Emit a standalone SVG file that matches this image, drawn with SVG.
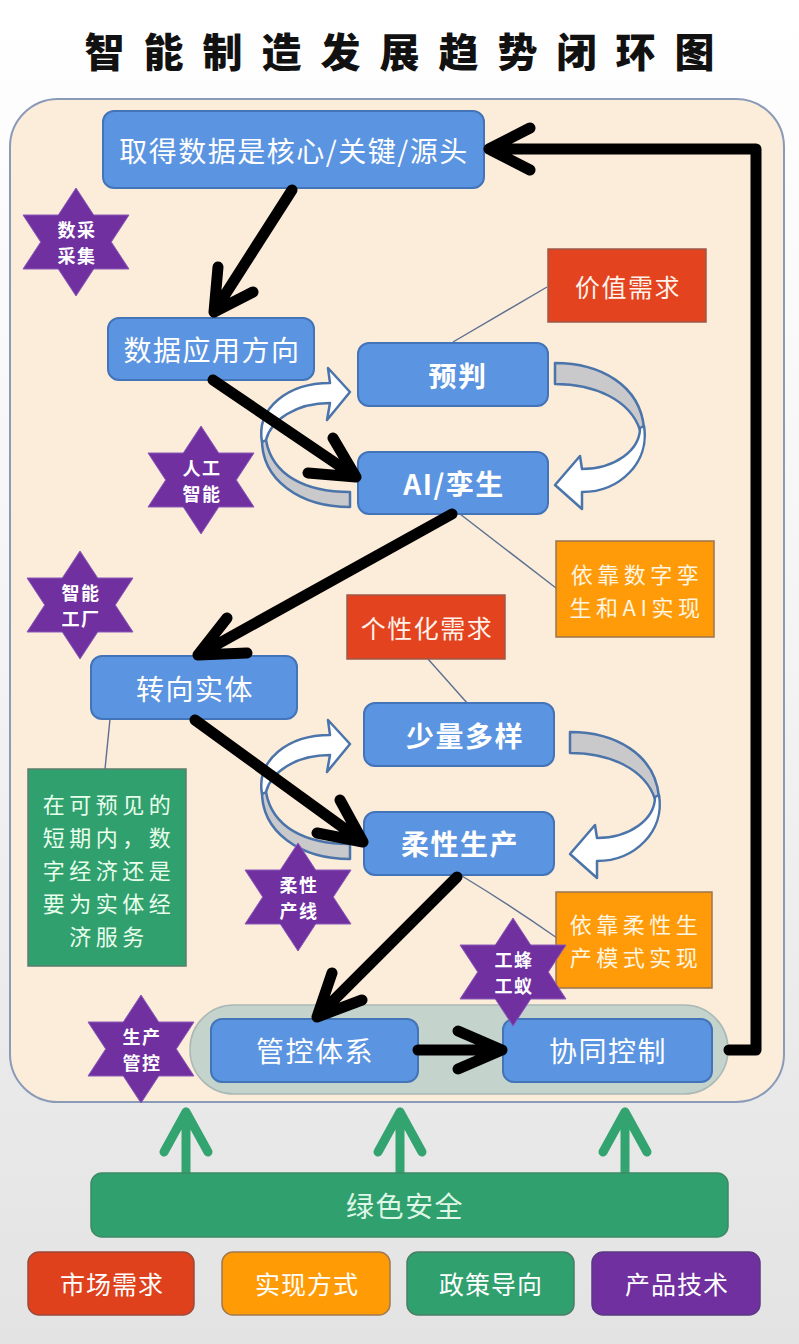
<svg xmlns="http://www.w3.org/2000/svg" xmlns:xlink="http://www.w3.org/1999/xlink" width="799" height="1344" viewBox="0 0 799 1344">
<defs>
<linearGradient id="bg" x1="0" y1="0" x2="0" y2="1">
<stop offset="0" stop-color="#ffffff"/>
<stop offset="0.5" stop-color="#f3f3f3"/>
<stop offset="1" stop-color="#e3e3e3"/>
</linearGradient>
<polygon id="star" points="0,-54 17.7,-27 53,-27 35.3,0 53,27 17.7,27 0,54 -17.7,27 -53,27 -35.3,0 -53,-27 -17.7,-27"/>
<style>
text{font-family:"Noto Sans CJK SC","Noto Sans",sans-serif;dominant-baseline:central;text-anchor:middle}
.title{font-size:40px;font-weight:900;fill:#111;letter-spacing:19px}
.node rect{fill:#5b94e0;stroke:#4474b8;stroke-width:2}
.node text{fill:#fff;font-size:28px;letter-spacing:1.5px}
.node text.b{font-weight:bold}
.red rect{fill:#e3441f;stroke:#9a5a4a;stroke-width:1.5}
.red text{fill:#fff2ea;font-size:25px;letter-spacing:1.5px}
.org rect{fill:#ff9a08;stroke:#9a7450;stroke-width:1.5}
.org text{fill:#fff6e2;font-size:22px;letter-spacing:4.5px}
.grn rect{fill:#31a06f;stroke:#5a7d6c;stroke-width:1.5}
.grn text{fill:#e8ffec;font-size:22px;letter-spacing:4.5px}
.star use{fill:#7030a0;stroke:#8a5ab8;stroke-width:1}
.star text{fill:#fff;font-size:18px;font-weight:bold;letter-spacing:1.5px}
.blk{fill:none;stroke:#000;stroke-width:11;stroke-linecap:round;stroke-linejoin:round}
.call{fill:none;stroke:#5d7090;stroke-width:1.4}
.cg{fill:#c9c9cb;stroke:#4a74aa;stroke-width:2.5;stroke-linejoin:round}
.cw{fill:#ffffff;stroke:#4a74aa;stroke-width:2.5;stroke-linejoin:round}
.up{fill:none;stroke:#33a36f;stroke-width:9;stroke-linecap:round;stroke-linejoin:round}
.leg text{fill:#fff;font-size:25px;letter-spacing:1px}
</style>
</defs>

<rect x="0" y="0" width="799" height="1344" fill="url(#bg)"/>

<text class="title" x="409" y="50">智能制造发展趋势闭环图</text>

<rect id="container" x="10" y="99" width="774" height="1003" rx="48" fill="#fcecda" stroke="#8a9bb8" stroke-width="2"/>

<rect id="pill" x="190" y="1005" width="538" height="89" rx="44" fill="#c5d3cd" stroke="#aab9b5" stroke-width="1.5"/>

<g id="cycle1">
<path class="cg" d="M262,438 C261,480 300,507 350,507 L350,492 C305,492 272,475 266,440 Z"/>
<path class="cw" d="M262,442 C256,408 288,383 330,383 L328,368 L350,392 L327,420 L330,403 C296,403 271,420 266,440 Z"/>
<path class="cg" d="M555,363 C600,363 640,385 644,428 L640,430 C630,400 595,384 555,384 Z"/>
<path class="cw" d="M644,426 C650,462 620,492 582,492 L582,509 L555,485 L580,456 L582,469 C615,469 640,450 640,428 Z"/>
</g>
<g id="cycle2">
<g transform="translate(0,352)">
<path class="cg" d="M262,438 C261,480 300,507 350,507 L350,492 C305,492 272,475 266,440 Z"/>
<path class="cw" d="M262,442 C256,408 288,383 330,383 L328,368 L350,392 L327,420 L330,403 C296,403 271,420 266,440 Z"/>
</g>
<g transform="translate(15,369)">
<path class="cg" d="M555,363 C600,363 640,385 644,428 L640,430 C630,400 595,384 555,384 Z"/>
<path class="cw" d="M644,426 C650,462 620,492 582,492 L582,509 L555,485 L580,456 L582,469 C615,469 640,450 640,428 Z"/>
</g>
</g>

<g id="callouts">
<line class="call" x1="547" y1="287" x2="453" y2="342"/>
<line class="call" x1="460" y1="514" x2="556" y2="588"/>
<line class="call" x1="428" y1="659" x2="468" y2="704"/>
<path class="call" d="M462,876 Q510,905 557,938"/>
<line class="call" x1="110" y1="719" x2="105" y2="769"/>
</g>

<g id="n1" class="node"><rect x="103" y="111" width="381" height="77" rx="11"/><text x="294" y="150">取得数据是核心/关键/源头</text></g>
<g id="n2" class="node"><rect x="108" y="318" width="206" height="62" rx="11"/><text x="212" y="349">数据应用方向</text></g>
<g id="n3" class="node"><rect x="358" y="343" width="190" height="63" rx="11"/><text class="b" x="458" y="375">预判</text></g>
<g id="n4" class="node"><rect x="358" y="452" width="190" height="62" rx="11"/><text class="b" x="454" y="483">AI/孪生</text></g>
<g id="n5" class="node"><rect x="91" y="656" width="206" height="63" rx="11"/><text x="195" y="688">转向实体</text></g>
<g id="n6" class="node"><rect x="364" y="703" width="190" height="63" rx="11"/><text class="b" x="465" y="735">少量多样</text></g>
<g id="n7" class="node"><rect x="364" y="812" width="190" height="63" rx="11"/><text class="b" x="460" y="843">柔性生产</text></g>
<g id="n8" class="node"><rect x="211" y="1019" width="207" height="63" rx="11"/><text x="315" y="1050">管控体系</text></g>
<g id="n9" class="node"><rect x="503" y="1019" width="209" height="63" rx="11"/><text x="608" y="1050">协同控制</text></g>

<g id="r1" class="red"><rect x="548" y="249" width="158" height="73"/><text x="628" y="286">价值需求</text></g>
<g id="r2" class="red"><rect x="347" y="595" width="158" height="64"/><text x="427" y="627">个性化需求</text></g>
<g id="o1" class="org"><rect x="556" y="541" width="158" height="96"/><text x="637" y="573">依靠数字孪</text><text x="637" y="606">生和AI实现</text></g>
<g id="o2" class="org"><rect x="556" y="892" width="156" height="96"/><text x="636" y="923">依靠柔性生</text><text x="636" y="956">产模式实现</text></g>
<g id="g1" class="grn"><rect x="28" y="769" width="158" height="197"/>
<text x="109" y="803">在可预见的</text><text x="109" y="836">短期内，数</text><text x="109" y="869">字经济还是</text><text x="109" y="902">要为实体经</text><text x="109" y="935">济服务</text></g>

<g id="connectors">
<path class="blk" d="M292,190 L214,312 M218,267 L214,312 L253,292"/>
<path class="blk" d="M213,380 L356,477 M333,438 L356,477 L308,473"/>
<path class="blk" d="M452,514 L198,655 M227,618 L198,655 L247,653"/>
<path class="blk" d="M195,720 L363,842 M340,800 L363,842 L317,833"/>
<path class="blk" d="M457,877 L317,1017 M332,973 L317,1017 L362,1000"/>
<path class="blk" d="M418,1050 L502,1050 M458,1031 L502,1050 L458,1069"/>
<path class="blk" d="M729,1050 L756,1050 L756,149 L489,149 M530,128 L489,149 L530,170"/>
<path class="up" d="M186,1172 L186,1112 M164,1152 L186,1112 L208,1152"/>
<path class="up" d="M400,1172 L400,1112 M378,1152 L400,1112 L422,1152"/>
<path class="up" d="M625,1172 L625,1112 M603,1152 L625,1112 L647,1152"/>
</g>

<g id="s1" class="star"><use href="#star" x="76" y="242"/><text x="77" y="229">数采</text><text x="77" y="255">采集</text></g>
<g id="s2" class="star"><use href="#star" x="201" y="480"/><text x="202" y="467">人工</text><text x="202" y="493">智能</text></g>
<g id="s3" class="star"><use href="#star" x="80" y="605"/><text x="81" y="592">智能</text><text x="81" y="618">工厂</text></g>
<g id="s4" class="star"><use href="#star" x="298" y="897"/><text x="299" y="884">柔性</text><text x="299" y="910">产线</text></g>
<g id="s5" class="star"><use href="#star" x="513" y="972"/><text x="514" y="959">工蜂</text><text x="514" y="985">工蚁</text></g>
<g id="s6" class="star"><use href="#star" x="141" y="1049"/><text x="142" y="1036">生产</text><text x="142" y="1062">管控</text></g>

<g id="green-base"><rect x="91" y="1173" width="637" height="64" rx="11" fill="#30a06e" stroke="#3d8a66" stroke-width="1.5"/><text x="405" y="1205" fill="#dff7e6" font-size="28" letter-spacing="1.5">绿色安全</text></g>

<g id="legend" class="leg">
<g id="l1"><rect x="28" y="1252" width="166" height="63" rx="11" fill="#e0411d" stroke="#9c4a3c" stroke-width="1.5"/><text x="112" y="1283">市场需求</text></g>
<g id="l2"><rect x="222" y="1252" width="168" height="63" rx="11" fill="#ff9b05" stroke="#a07a50" stroke-width="1.5"/><text x="307" y="1283">实现方式</text></g>
<g id="l3"><rect x="407" y="1252" width="167" height="63" rx="11" fill="#30a06e" stroke="#4a7d66" stroke-width="1.5"/><text x="491" y="1283">政策导向</text></g>
<g id="l4"><rect x="592" y="1252" width="168" height="63" rx="11" fill="#7030a0" stroke="#5a3a80" stroke-width="1.5"/><text x="677" y="1283">产品技术</text></g>
</g>
</svg>
